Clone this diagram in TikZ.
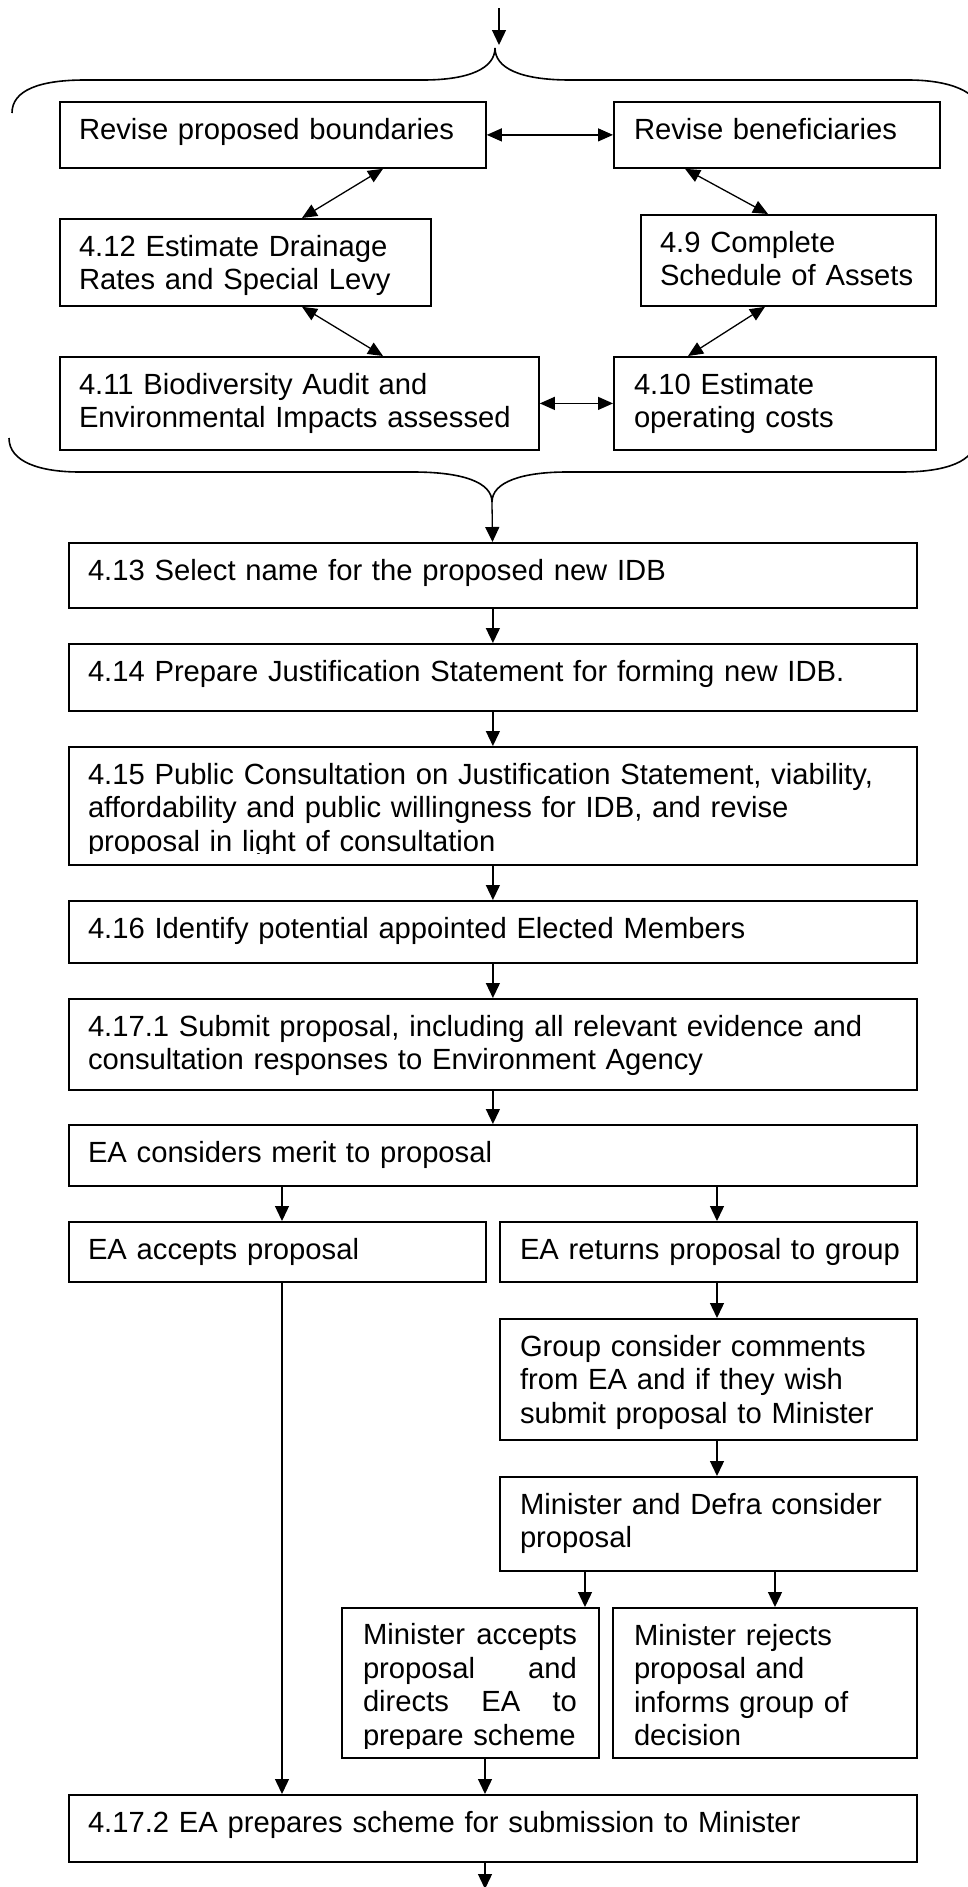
\documentclass[tikz,border=0pt]{standalone}
\usepackage{fontspec}
\setmainfont{Liberation Sans}
\usetikzlibrary{arrows.meta}
\newcommand\figfont{\fontsize{29.2}{33.5}\selectfont}
\newcommand\tbox[7]{%
  \node[box, minimum width=#4pt, minimum height=#5pt] (#1) at (#2,#3) {};
  \node[txt, text width=#4pt] (#1-t) at ([shift={(#6,15)}]#1.north west) {#7};}
\begin{document}
\begin{tikzpicture}[x=1pt,y=-1pt,
  box/.style={draw, line width=1.8pt, inner sep=0pt, anchor=north west},
  txt/.style={anchor=north west, inner sep=0pt, outer sep=0pt, font=\figfont, align=left, execute at begin node=\strut},
  arr/.style={line width=1.3pt, -{Triangle[length=15pt,width=14pt]}},
  darr/.style={line width=1.3pt, {Triangle[length=15pt,width=13pt]}-{Triangle[length=15pt,width=13pt]}},
  brace/.style={line width=1.6pt}]
\useasboundingbox (0,0) rectangle (968,1887);

% top cluster
\tbox{rpb}{59}{101}{426}{66}{20}{Revise proposed boundaries}
\tbox{rb}{613}{101}{326}{66}{21}{Revise beneficiaries}
\tbox{b412}{59}{218}{371}{87}{20}{4.12 Estimate Drainage\\Rates and Special Levy}
\tbox{b49}{640}{214}{295}{91}{20}{4.9 Complete\\Schedule of Assets}
\tbox{b411}{59}{356}{479}{93}{20}{4.11 Biodiversity Audit and\\Environmental Impacts assessed}
\tbox{b410}{613}{356}{322}{93}{21}{4.10 Estimate\\operating costs}

% main column
\tbox{b413}{68}{542}{848}{65}{20}{4.13 Select name for the proposed new IDB}
\tbox{b414}{68}{643}{848}{67}{20}{4.14 Prepare Justification Statement for forming new IDB.}
\node[box, minimum width=848pt, minimum height=118pt] (b415) at (68,746) {};
\begin{scope}
  \clip (68,746) rectangle (916,853);
  \node[txt, text width=848pt] (b415-t) at ([shift={(20,15)}]b415.north west) {4.15 Public Consultation on Justification Statement, viability,\\affordability and public willingness for IDB, and revise\\proposal in light of consultation};
\end{scope}
\tbox{b416}{68}{900}{848}{62}{20}{4.16 Identify potential appointed Elected Members}
\tbox{b4171}{68}{998}{848}{91}{20}{4.17.1 Submit proposal, including all relevant evidence and\\consultation responses to Environment Agency}
\tbox{eac}{68}{1124}{848}{61}{20}{EA considers merit to proposal}
\tbox{eaa}{68}{1221}{417}{60}{20}{EA accepts proposal}
\tbox{ear}{499}{1221}{417}{60}{21}{EA returns proposal to group}
\tbox{grp}{499}{1318}{417}{121}{21}{Group consider comments\\from EA and if they wish\\submit proposal to Minister}
\tbox{md}{499}{1476}{417}{94}{21}{Minister and Defra consider\\proposal}
\node[box, minimum width=257pt, minimum height=150pt] (macc) at (341,1607) {};
\begin{scope}
  \clip (341,1607) rectangle (598,1748);
  \node[anchor=north west, inner sep=0pt, outer sep=0pt, font=\figfont, text width=214pt, execute at begin node=\strut] (macc-t) at ([shift={(22,14.5)}]macc.north west) {Minister\hfill accepts\\proposal\hfill and\\directs\hfill EA\hfill to\\prepare scheme};
\end{scope}
\tbox{mrej}{612}{1607}{304}{150}{22}{Minister rejects\\proposal and\\informs group of\\decision}
\tbox{b4172}{68}{1794}{848}{67}{20}{4.17.2 EA prepares scheme for submission to Minister}

% top arrow and brace
\coordinate (tA) at (499,8);
\coordinate (tB) at (499,45);
\draw[arr] (tA) -- (tB);
\draw[brace] (12,113) .. controls (12,90) and (40,80) .. (85,80) -- (423,80)
  .. controls (470,80) and (495,68) .. (495,48)
  .. controls (495,68) and (520,80) .. (570,80) -- (908,80)
  .. controls (950,80) and (980,92) .. (980,113);

% cluster connectors
\draw[darr] (rpb.east) -- (rb.west);
\draw[darr] ([xshift=324pt]rpb.south west) -- ([xshift=243pt]b412.north west);
\draw[darr] ([xshift=72pt]rb.south west) -- ([xshift=128pt]b49.north west);
\draw[darr] ([xshift=243pt]b412.south west) -- ([xshift=324pt]b411.north west);
\draw[darr] ([xshift=125pt]b49.south west) -- ([xshift=75pt]b410.north west);
\draw[darr] (b411.east) -- (b410.west);

% bottom brace
\draw[brace] (9,438) .. controls (9,462) and (40,472) .. (80,472) -- (413,472)
  .. controls (462,472) and (492,482) .. (492,502)
  .. controls (492,482) and (522,472) .. (567,472) -- (901,472)
  .. controls (945,472) and (976,462) .. (976,438);
\coordinate (bT) at (492,502);
\draw[arr] (bT) -- (b413);

% column arrows
\draw[arr] (b413) -- (b414);
\draw[arr] (b414) -- (b415);
\draw[arr] (b415) -- (b416);
\draw[arr] (b416) -- (b4171);
\draw[arr] (b4171) -- (eac);
\draw[arr] ([xshift=214pt]eac.south west) -- ([xshift=214pt]eaa.north west);
\draw[arr] ([xshift=649pt]eac.south west) -- ([xshift=218pt]ear.north west);
\draw[arr] ([xshift=218pt]ear.south west) -- ([xshift=218pt]grp.north west);
\draw[arr] ([xshift=218pt]grp.south west) -- ([xshift=218pt]md.north west);
\draw[arr] ([xshift=86pt]md.south west) -- ([xshift=244pt]macc.north west);
\draw[arr] ([xshift=276pt]md.south west) -- ([xshift=163pt]mrej.north west);
\draw[arr] ([xshift=214pt]eaa.south west) -- ([xshift=214pt]b4172.north west);
\draw[arr] ([xshift=144pt]macc.south west) -- ([xshift=417pt]b4172.north west);
\coordinate (endB) at (485,1889);
\draw[arr] ([xshift=417pt]b4172.south west) -- (endB);
\end{tikzpicture}
\end{document}
